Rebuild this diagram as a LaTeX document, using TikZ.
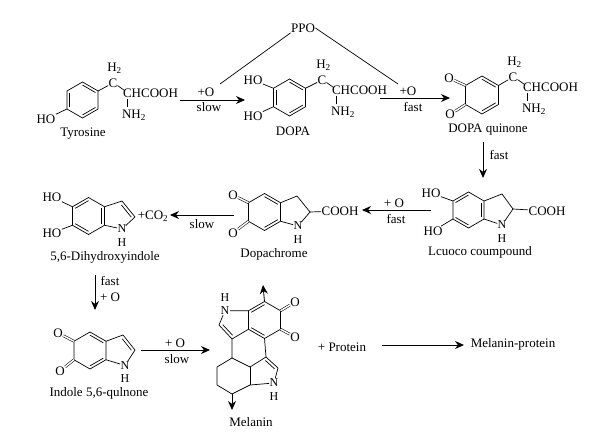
\documentclass[tikz,border=0pt]{standalone}
\usepackage{fontspec}
\setmainfont{Liberation Serif}
\usetikzlibrary{calc,arrows.meta}

\tikzset{
    bond/.style={line width=0.7pt, line join=round},
    nbond/.style={bond, shorten >=5pt},
    dblbond/.style={double, double distance=1.5pt, line width=0.55pt},
    rxn/.style={-{Stealth[length=9pt,width=8pt]}, line width=0.85pt},
    chem/.style={inner sep=0.3pt, font=\fontsize{13}{14}\selectfont},
    stacked/.style={inner sep=0.3pt, align=center, font=\fontsize{12}{13.4}\selectfont},
}

% six-membered ring, corners #11 (top) to #16, clockwise
\newcommand{\hexring}[3]{
    \coordinate (#1c) at (#2);
    \foreach \k in {1,...,6}
        \coordinate (#1\k) at ($(#1c)+({-150+60*\k}:#3)$);
    \draw[bond] (#11) -- (#12) -- (#13) -- (#14) -- (#15) -- (#16) -- cycle;
}
\newcommand{\inbond}[3]{\draw[bond] ($(#1)!.17!(#3)$) -- ($(#2)!.17!(#3)$);}

% N with its H below; (#1a) is the middle of the N
\newcommand{\nhgroup}[2]{
    \coordinate (#1a) at (#2);
    \node[stacked] (#1) at ($(#1a)+(0,6.7)$) {N\\H};
}

% CH2-CH(NH2)-COOH hanging on a carbon at #2
\newcommand{\sidechain}[2]{
    \node[chem] (#1c) at (#2) {C};
    \node[chem] (#1hh) at ($(#1c)+(1.5,-15)$) {H\textsubscript{2}};
    \node[chem] (#1ch) at ($(#1c)+(37.5,10)$) {CHCOOH};
    \node[chem] (#1nh) at ($(#1c)+(21,32.5)$) {NH\textsubscript{2}};
    \draw[bond] ($(#1c)+(4.5,2.5)$) -- ($(#1c)+(11.5,7.5)$);
    \draw[bond] ($(#1c)+(14.5,16)$) -- ($(#1c)+(14.5,24)$);
}

\begin{document}
\begin{tikzpicture}[x=1pt, y=-1pt]
    \useasboundingbox (0,0) rectangle (599,433);

    % tyrosine
    \hexring{t}{82.5,100}{18}
    \inbond{t1}{t2}{tc} \inbond{t3}{t4}{tc} \inbond{t5}{t6}{tc}
    \sidechain{ts}{113,83}
    \draw[bond] (t2) -- (tsc);
    \node[chem] (tho) at (46,119) {HO};
    \draw[bond] (t5) -- (tho);
    \node[chem] (tyrosine) at (83,134) {Tyrosine};

    % dopa
    \hexring{d}{289.5,97.5}{18.5}
    \inbond{d1}{d2}{dc} \inbond{d3}{d4}{dc} \inbond{d5}{d6}{dc}
    \sidechain{ds}{322,80}
    \draw[bond] (d2) -- (dsc);
    \node[chem] (dho) at (253,80) {HO};
    \node[chem] (dhob) at (253,116) {HO};
    \draw[bond] (d6) -- (dho);
    \draw[bond] (d5) -- (dhob);
    \node[chem] (dopa) at (293,131) {DOPA};

    % dopa quinone
    \hexring{q}{482,95}{19}
    \inbond{q1}{q2}{qc} \inbond{q3}{q4}{qc}
    \sidechain{qs}{513,77}
    \draw[bond] (q2) -- (qsc);
    \node[chem] (qo) at (449,78) {O};
    \node[chem] (qob) at (450,114.5) {O};
    \draw[dblbond] (q6) -- (qo);
    \draw[dblbond] (q5) -- (qob);
    \node[chem] (quinone) at (488,129.5) {DOPA quinone};

    % leuco
    \hexring{l}{468.5,210}{18}
    \inbond{l6}{l1}{lc} \inbond{l2}{l3}{lc} \inbond{l4}{l5}{lc}
    \coordinate (la) at (502,194);
    \coordinate (lb) at (513,209);
    \nhgroup{ln}{502,225}
    \draw[bond] (l2) -- (la) -- (lb);
    \draw[nbond] (lb) -- (lna);
    \draw[nbond] (l3) -- (lna);
    \node[chem] (lcooh) at (547,211) {COOH};
    \draw[bond] (lb) -- (lcooh);
    \node[chem] (lho) at (431,193) {HO};
    \node[chem] (lhob) at (433,231) {HO};
    \draw[bond] (l6) -- (lho);
    \draw[bond] (l5) -- (lhob);
    \node[chem] (leuco) at (480,252.5) {Lcuoco coumpound};

    % dopachrome
    \hexring{c}{264.5,212}{18.5}
    \inbond{c1}{c2}{cc} \inbond{c3}{c4}{cc}
    \coordinate (ca) at (297,196);
    \coordinate (cb) at (310,212);
    \nhgroup{cn}{298,226}
    \draw[bond] (c2) -- (ca) -- (cb);
    \draw[nbond] (cb) -- (cna);
    \draw[nbond] (c3) -- (cna);
    \node[chem] (ccooh) at (340,211) {COOH};
    \draw[bond] (cb) -- (ccooh);
    \node[chem] (co) at (233,195) {O};
    \node[chem] (cob) at (233,233) {O};
    \draw[dblbond] (c6) -- (co);
    \draw[dblbond] (c5) -- (cob);
    \node[chem] (dopachrome) at (274,254.5) {Dopachrome};

    % dihydroxyindole
    \hexring{h}{88.5,216}{18.5}
    \inbond{h6}{h1}{hc} \inbond{h2}{h3}{hc} \inbond{h4}{h5}{hc}
    \coordinate (ha) at (122,201);
    \coordinate (hb) at (135,217);
    \nhgroup{hn}{122,229}
    \draw[bond] (h2) -- (ha) -- (hb);
    \draw[nbond] (hb) -- (hna);
    \draw[nbond] (h3) -- (hna);
    \draw[bond] ($(ha)!.12!(hb)+(-2.2,2)$) -- ($(hb)!.12!(ha)+(-2.2,2)$);
    \node[chem] (hho) at (52,197) {HO};
    \node[chem] (hhob) at (52,233) {HO};
    \draw[bond] (h6) -- (hho);
    \draw[bond] (h5) -- (hhob);
    \node[chem] (hco) at (153,216) {+CO\textsubscript{2}};
    \node[chem] (dihydroxy) at (105,257) {5,6-Dihydroxyindole};

    % indole quinone
    \hexring{i}{90,350.5}{18.5}
    \inbond{i1}{i2}{ic} \inbond{i3}{i4}{ic}
    \coordinate (ia) at (123,335);
    \coordinate (ib) at (135,350);
    \nhgroup{in}{125,365.5}
    \draw[bond] (i2) -- (ia) -- (ib);
    \draw[nbond] (ib) -- (ina);
    \draw[nbond] (i3) -- (ina);
    \draw[bond] ($(ia)!.12!(ib)+(-2.2,2)$) -- ($(ib)!.12!(ia)+(-2.2,2)$);
    \node[chem] (io) at (58,333) {O};
    \node[chem] (iob) at (60,371) {O};
    \draw[dblbond] (i6) -- (io);
    \draw[dblbond] (i5) -- (iob);
    \node[chem] (indole) at (99,393.5) {Indole 5,6-qulnone};

    % melanin
    \hexring{m}{264.5,320}{18.5}
    \inbond{m6}{m1}{mc} \inbond{m4}{m5}{mc}
    \node[chem] (mo) at (295,302) {O};
    \node[chem] (mob) at (295,337) {O};
    \draw[dblbond] (m2) -- (mo);
    \draw[dblbond] (m3) -- (mob);
    \node[stacked] (mn) at (225,304) {H\\N};
    \coordinate (mna) at ($(mn)+(0,6.7)$);
    \nhgroup{mnb}{274,383}
    \coordinate (ma) at (219,325);
    \coordinate (mb) at (232,339);
    \coordinate (mj) at (232,358);
    \coordinate (mk) at (250,367);
    \coordinate (ml) at (266,357);
    \coordinate (mp) at (278,368);
    \coordinate (mq) at (250,385);
    \coordinate (mr) at (232,394);
    \coordinate (ms) at (217,385);
    \coordinate (mt) at (217,367);
    \draw[nbond] (m6) -- (mna);
    \draw[nbond] (ma) -- (mna);
    \draw[bond] (ma) -- (mb) -- (m5);
    \draw[bond] ($(ma)!.12!(mb)+(2.2,-2)$) -- ($(mb)!.12!(ma)+(2.2,-2)$);
    \draw[bond] (mb) -- (mj) -- (mk) -- (ml) -- (m4);
    \draw[bond] (ml) -- (mp);
    \draw[nbond] (mp) -- (mnba);
    \draw[nbond] (mq) -- (mnba);
    \draw[bond] (mq) -- (mk);
    \draw[bond] ($(ml)!.12!(mp)+(-2,2.2)$) -- ($(mp)!.12!(ml)+(-2,2.2)$);
    \draw[bond] (mq) -- (mr) -- (ms) -- (mt) -- (mj);
    \coordinate (mup) at (263,285);
    \coordinate (mdown) at (232,410);
    \draw[rxn] (m1) -- (mup);
    \draw[rxn] (mr) -- (mdown);
    \node[chem] (melanin) at (251,422) {Melanin};

    % reaction arrows
    \coordinate (a1) at (180,100);
    \coordinate (a2) at (245,100);
    \draw[rxn] (a1) -- (a2);
    \node[chem] (a1top) at (206,92.5) {+O};
    \node[chem] (a1bot) at (209,107.5) {slow};

    \coordinate (b1) at (380,98);
    \coordinate (b2) at (450,98);
    \draw[rxn] (b1) -- (b2);
    \node[chem] (b1top) at (408,91) {+O};
    \node[chem] (b1bot) at (413,107) {fast};

    \coordinate (c1a) at (483,142);
    \coordinate (c2a) at (483,178);
    \draw[rxn] (c1a) -- (c2a);
    \node[chem] (c1lab) at (499,155) {fast};

    \coordinate (e1) at (431,210);
    \coordinate (e2) at (362,210);
    \draw[rxn] (e1) -- (e2);
    \node[chem] (e1top) at (394,203) {+ O};
    \node[chem] (e1bot) at (396,219) {fast};

    \coordinate (f1) at (234,215);
    \coordinate (f2) at (170,215);
    \draw[rxn] (f1) -- (f2);
    \node[chem] (f1bot) at (202,224) {slow};

    \coordinate (g1) at (95,275);
    \coordinate (g2) at (95,310);
    \draw[rxn] (g1) -- (g2);
    \node[chem] (g1top) at (110,281) {fast};
    \node[chem] (g1bot) at (110,297) {+ O};

    \coordinate (j1) at (141,350);
    \coordinate (j2) at (210,350);
    \draw[rxn] (j1) -- (j2);
    \node[chem] (j1top) at (175,343) {+ O};
    \node[chem] (j1bot) at (177,359) {slow};

    \node[chem] (protein) at (342,347) {+ Protein};
    \node[chem] (product) at (513,344) {Melanin-protein};
    \coordinate (k1) at (382,345);
    \coordinate (k2) at (464,345);
    \draw[rxn] (k1) -- (k2);

    % enzyme
    \node[chem] (ppo) at (303,28) {PPO};
    \coordinate (p1) at (220,84);
    \coordinate (p2) at (398,84);
    \draw[bond] (p1) -- (ppo.south west);
    \draw[bond] (ppo.east) -- (p2);
\end{tikzpicture}
\end{document}
